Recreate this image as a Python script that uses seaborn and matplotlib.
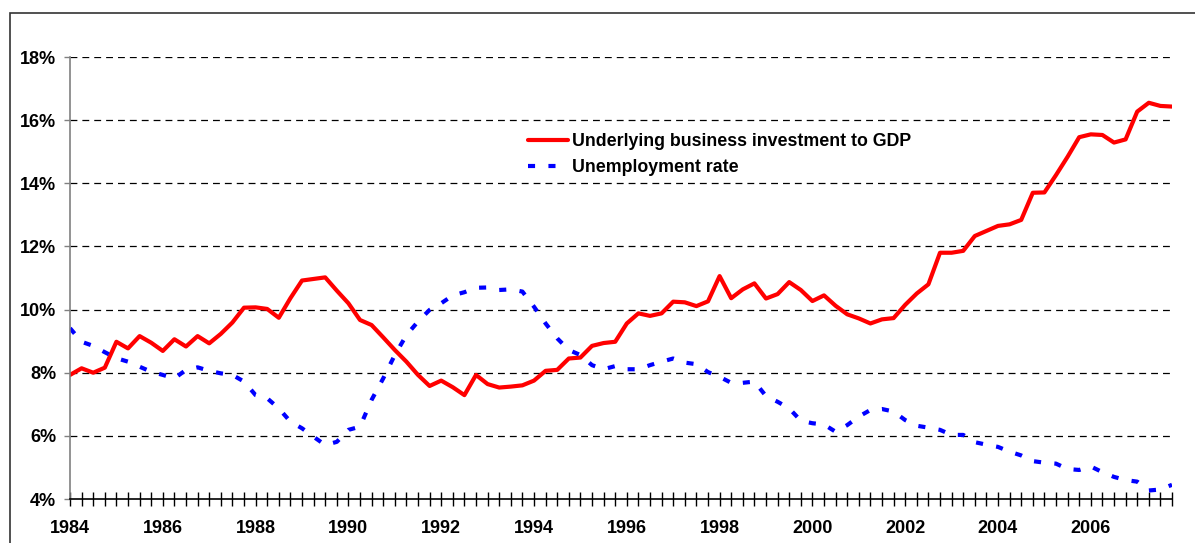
import numpy as np
import pandas as pd
import matplotlib
matplotlib.use("Agg")
import matplotlib.pyplot as plt
from matplotlib.ticker import MultipleLocator, FuncFormatter
from matplotlib.patches import Rectangle
import seaborn as sns


# quarterly observations, 1984 Q1 .. 2007 Q4
quarters = np.arange(1984, 2008, 0.25)

investment = [
    7.93, 8.14, 8.00, 8.16, 8.98, 8.77, 9.16, 8.95, 8.69, 9.06,
    8.83, 9.16, 8.93, 9.23, 9.59, 10.06, 10.07, 10.02, 9.74, 10.36,
    10.92, 10.97, 11.02, 10.60, 10.20, 9.67, 9.51, 9.12, 8.72, 8.35,
    7.93, 7.58, 7.75, 7.54, 7.29, 7.93, 7.64, 7.53, 7.56, 7.60,
    7.75, 8.06, 8.09, 8.45, 8.48, 8.85, 8.94, 8.98, 9.56, 9.88,
    9.80, 9.88, 10.25, 10.23, 10.11, 10.26, 11.06, 10.36, 10.64, 10.83,
    10.35, 10.49, 10.87, 10.62, 10.27, 10.45, 10.12, 9.85, 9.72, 9.56,
    9.69, 9.73, 10.15, 10.51, 10.80, 11.80, 11.80, 11.86, 12.33, 12.49,
    12.65, 12.70, 12.84, 13.70, 13.71, 14.26, 14.84, 15.46, 15.55, 15.53,
    15.29, 15.39, 16.27, 16.55, 16.45, 16.43,
]

unemployment = [
    9.41, 8.98, 8.85, 8.65, 8.46, 8.35, 8.19, 8.03, 7.93, 7.82,
    8.09, 8.17, 8.06, 7.98, 7.93, 7.72, 7.29, 7.19, 6.87, 6.45,
    6.24, 5.97, 5.71, 5.81, 6.19, 6.29, 7.14, 7.82, 8.56, 9.19,
    9.62, 9.99, 10.20, 10.45, 10.55, 10.69, 10.70, 10.62, 10.64, 10.57,
    10.09, 9.56, 9.09, 8.72, 8.56, 8.24, 8.11, 8.21, 8.11, 8.11,
    8.24, 8.35, 8.45, 8.32, 8.27, 8.02, 7.87, 7.68, 7.68, 7.72,
    7.26, 7.08, 6.87, 6.48, 6.40, 6.36, 6.13, 6.34, 6.61, 6.82,
    6.85, 6.77, 6.50, 6.32, 6.26, 6.19, 6.03, 6.03, 5.80, 5.72,
    5.65, 5.50, 5.38, 5.20, 5.15, 5.12, 4.95, 4.92, 5.03, 4.85,
    4.70, 4.60, 4.55, 4.27, 4.30, 4.45,
]

SERIES_INV = "Underlying business investment to GDP"
SERIES_UNEMP = "Unemployment rate"

y_ticks = [4, 6, 8, 10, 12, 14, 16, 18]


def build_frame():

    df = pd.concat([
        pd.DataFrame({"quarter": quarters, "value": investment, "series": SERIES_INV}),
        pd.DataFrame({"quarter": quarters, "value": unemployment, "series": SERIES_UNEMP}),
    ])

    return df


def plot_chart(df):

    sns.set_style("white")
    plt.rcParams["font.family"] = ["Liberation Sans", "DejaVu Sans"]
    plt.rcParams["font.weight"] = "bold"
    plt.rcParams["text.color"] = "black"
    plt.rcParams["xtick.color"] = "black"
    plt.rcParams["ytick.color"] = "black"

    fig = plt.figure(figsize=(11.95, 5.43), dpi=100)
    ax = fig.add_axes([70 / 1195, 44 / 543, 1102 / 1195, 442 / 543])

    sns.lineplot(
        data=df, x="quarter", y="value",
        hue="series", style="series",
        palette={SERIES_INV: "#ff0000", SERIES_UNEMP: "#0000ff"},
        dashes={SERIES_INV: "", SERIES_UNEMP: (1.7, 3.2)},
        linewidth=3, ax=ax, legend=True,
    )

    ax.set_xlim(1984, 2007.75)
    ax.set_ylim(4, 18)

    # dashed horizontal gridlines
    for y in y_ticks[1:]:
        ax.axhline(y, color="black", linewidth=0.9, dashes=(5.5, 4), zorder=0)

    ax.set_yticks(y_ticks)
    ax.yaxis.set_major_formatter(FuncFormatter(lambda v, p: f"{v:.0f}%"))
    ax.xaxis.set_major_locator(MultipleLocator(2))
    ax.xaxis.set_minor_locator(MultipleLocator(0.25))
    ax.xaxis.set_major_formatter(FuncFormatter(lambda v, p: f"{v:.0f}"))

    ax.tick_params(axis="x", which="both", bottom=True, direction="inout",
                   length=10, width=1, color="black", pad=10, labelsize=13)
    ax.tick_params(axis="y", which="major", left=True, direction="out",
                   length=4, width=1, color="#808080", pad=6, labelsize=13,
                   labelcolor="black")
    ax.tick_params(axis="y", which="minor", length=0)

    for lab in ax.get_xticklabels() + ax.get_yticklabels():
        lab.set_fontweight("bold")
        lab.set_color("black")

    ax.set_xlabel("")
    ax.set_ylabel("")

    for side in ["top", "right"]:
        ax.spines[side].set_visible(False)
    ax.spines["left"].set_color("#808080")
    ax.spines["left"].set_linewidth(1.2)
    ax.spines["bottom"].set_color("black")
    ax.spines["bottom"].set_linewidth(1.2)

    handles, labels = ax.get_legend_handles_labels()
    leg = ax.legend(
        handles, labels, loc="upper left",
        bbox_to_anchor=((528 - 70) / 1102, (499 - 133) / 442),
        frameon=False, borderpad=0, borderaxespad=0,
        handlelength=2.25, handletextpad=0.25, labelspacing=0.5,
        prop={"weight": "bold", "size": 12.8},
    )
    for line in leg.get_lines():
        line.set_linewidth(3)
    for txt in leg.get_texts():
        txt.set_color("black")

    # outer chart frame
    fig.add_artist(Rectangle((10 / 1195, -0.05), 1.1, (543 - 13) / 543 + 0.05,
                             transform=fig.transFigure, fill=False,
                             edgecolor="#333333", linewidth=1.2))

    fig.savefig("out.png", dpi=100)
    plt.close(fig)


if __name__ == "__main__":
    plot_chart(build_frame())
